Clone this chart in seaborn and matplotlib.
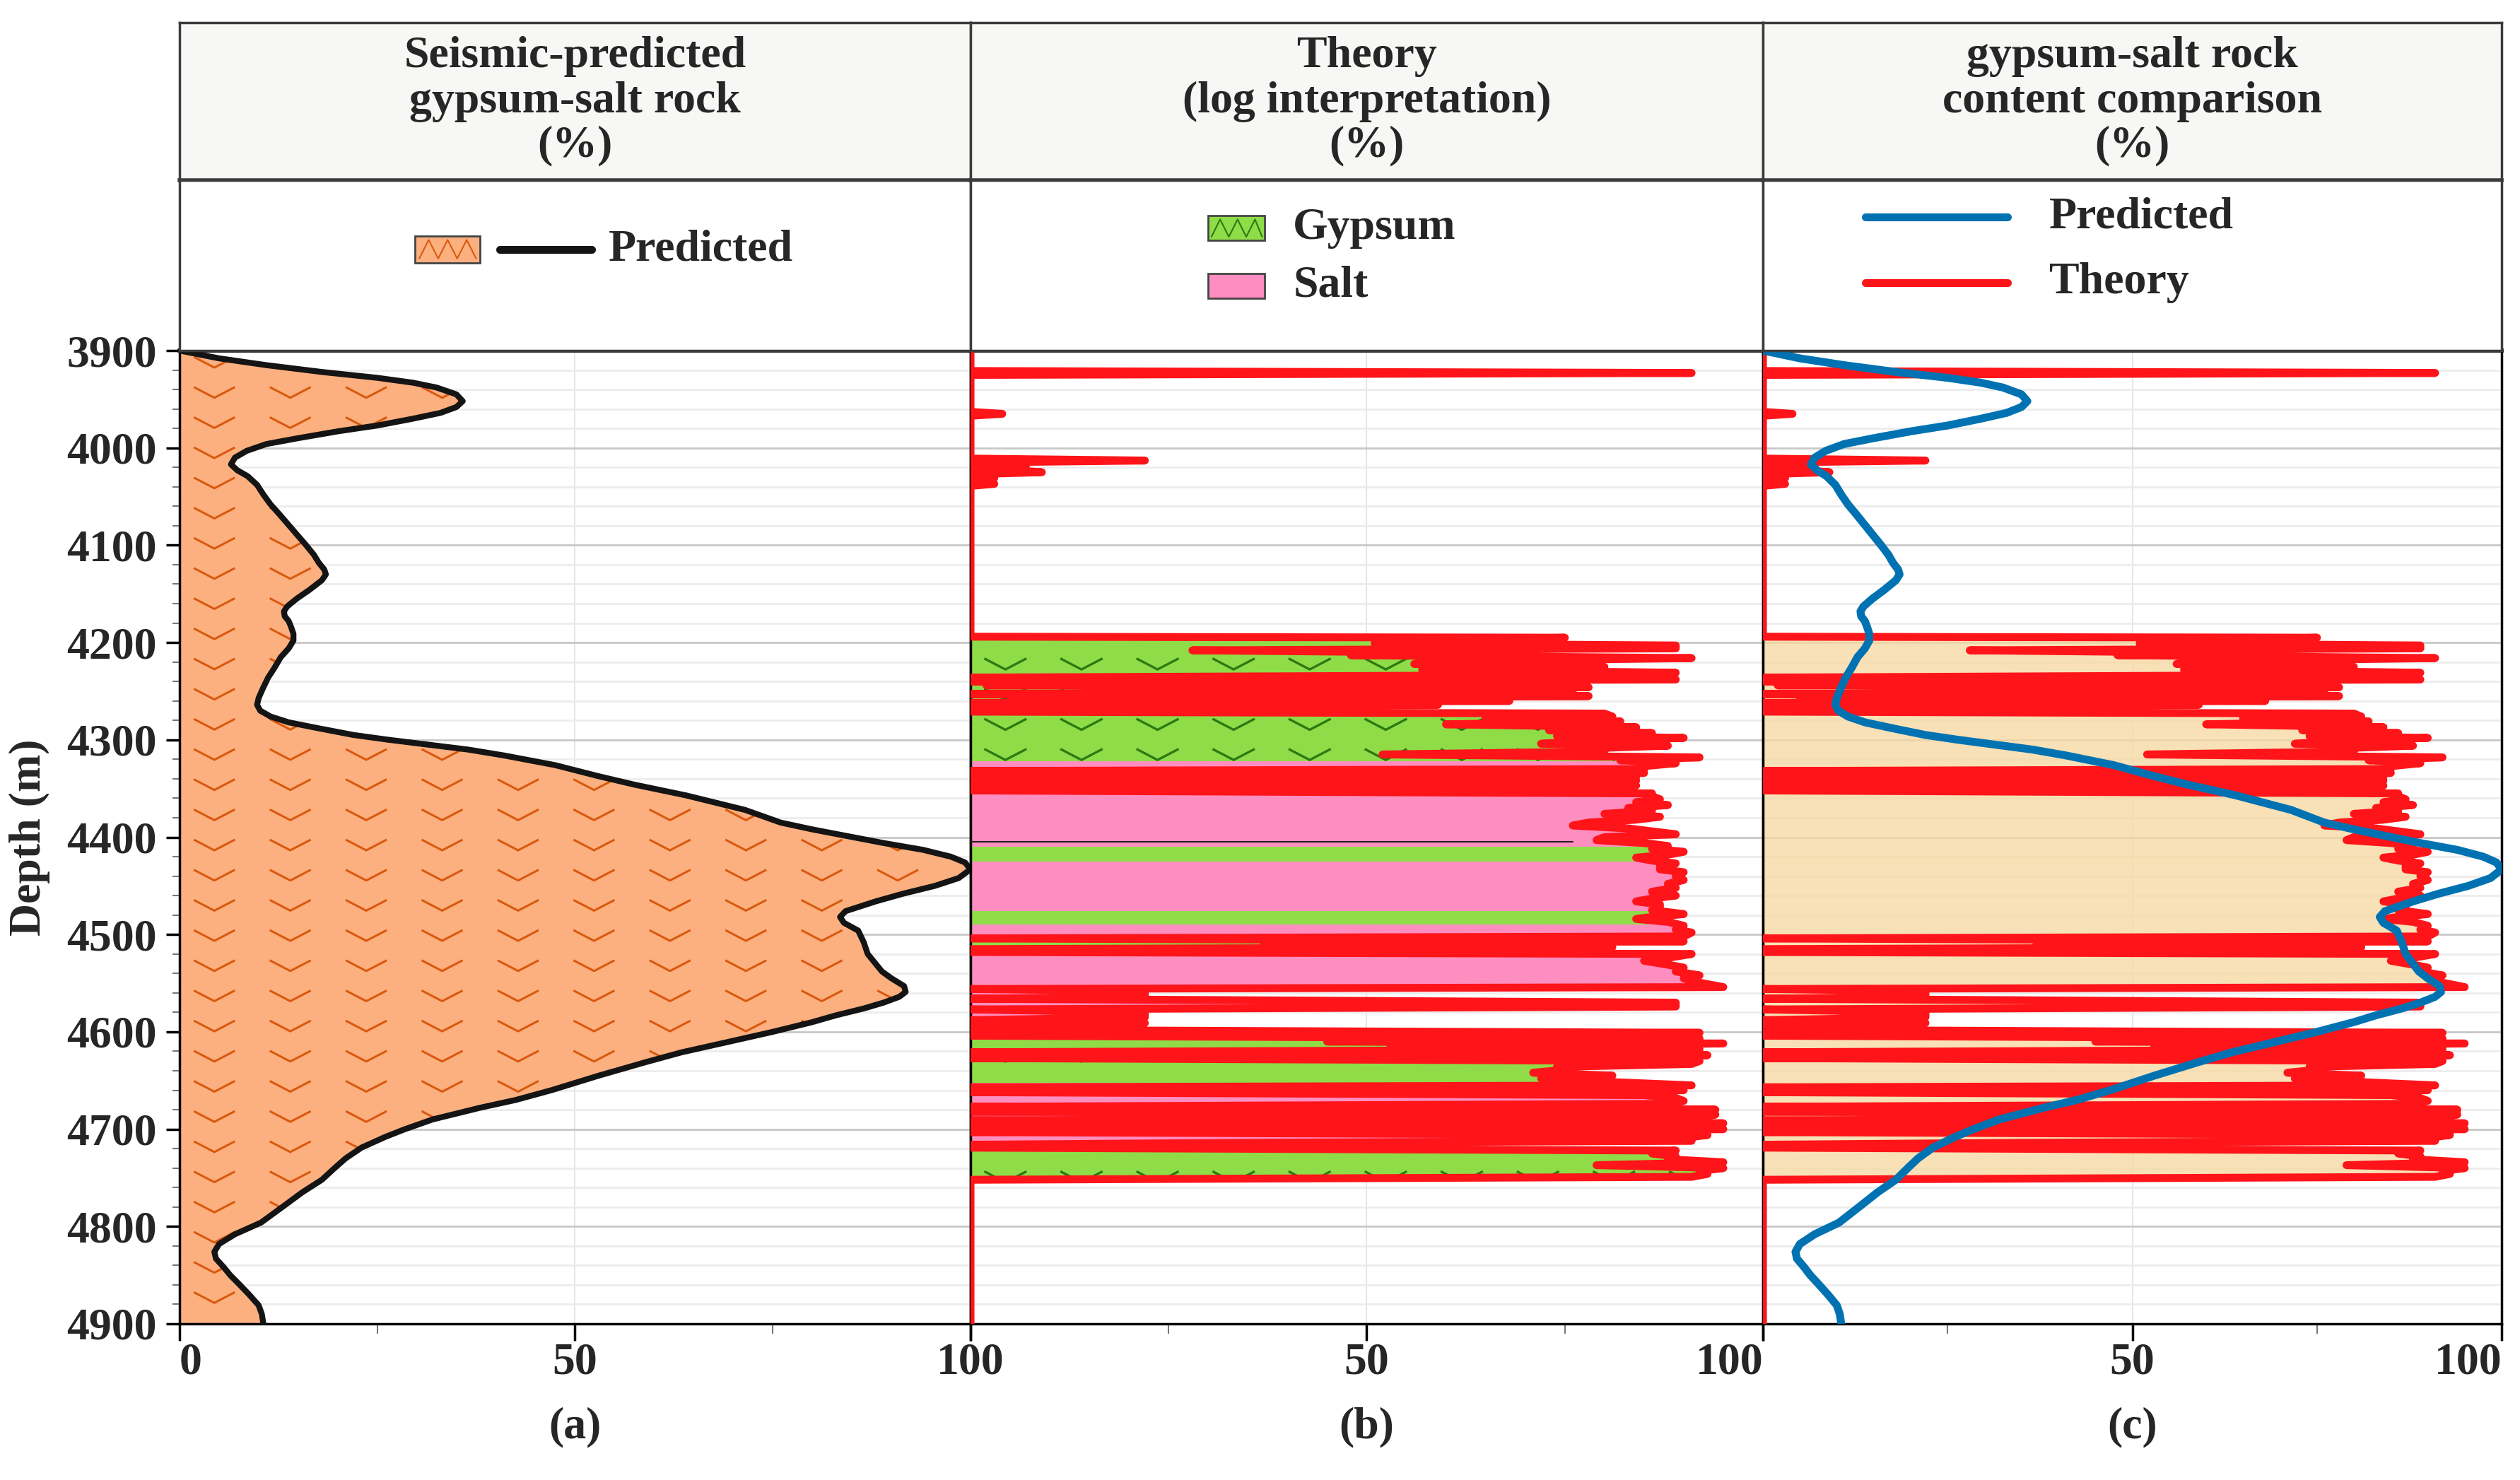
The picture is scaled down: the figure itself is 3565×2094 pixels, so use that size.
import numpy as np
import pandas as pd
import matplotlib
matplotlib.use("Agg")
from matplotlib import pyplot as plt
from matplotlib.path import Path
from matplotlib.patches import Rectangle
from matplotlib.ticker import MultipleLocator, FixedLocator
import seaborn as sns

# seismic-predicted gypsum-salt content (%) vs depth (m)
pred_depth = [3900, 3908, 3915, 3922, 3928, 3933, 3938, 3945, 3952, 3958, 3964, 3970,
              3977, 3983, 3990, 3996, 4003, 4010, 4017, 4023, 4029, 4038, 4048, 4058,
              4068, 4084, 4100, 4110, 4118, 4125, 4130, 4136, 4146, 4155, 4163, 4168,
              4173, 4178, 4184, 4191, 4198, 4206, 4215, 4226, 4236, 4246, 4257, 4264,
              4270, 4276, 4282, 4288, 4295, 4300, 4305, 4310, 4316, 4326, 4337, 4346,
              4357, 4372, 4385, 4392, 4399, 4406, 4413, 4420, 4426, 4433, 4442, 4450,
              4458, 4466, 4476, 4482, 4488, 4496, 4508, 4520, 4530, 4538, 4545, 4553,
              4559, 4564, 4570, 4576, 4583, 4590, 4600, 4611, 4621, 4631, 4645, 4660,
              4670, 4678, 4690, 4700, 4708, 4719, 4730, 4740, 4752, 4765, 4780, 4796,
              4808, 4818, 4826, 4833, 4842, 4850, 4859, 4870, 4881, 4890, 4900]
pred_value = [0, 5, 11, 18, 25, 29.5, 32.5, 35, 35.8, 35, 33, 29.5,
              25, 20, 15, 11, 8.5, 7, 6.5, 7.3, 8.6, 9.8, 10.6, 11.5,
              12.6, 14.3, 16, 17, 17.6, 18.3, 18.5, 18, 16.4, 14.8, 13.6, 13.2,
              13.3, 13.8, 14.1, 14.4, 14.4, 13.8, 12.8, 12, 11.2, 10.6, 10, 9.8,
              10.2, 11.5, 13.8, 17.5, 22, 26.5, 31.5, 36.5, 41, 47.5, 52.8, 57.5,
              64, 71.5, 76, 80, 84.5, 89, 94, 97.5, 99.3, 100, 98.5, 95.5,
              91.5, 88, 84.2, 83.5, 84, 85.8, 86.5, 87, 88, 88.8, 90, 91.6,
              91.8, 91, 89, 86.5, 83, 80, 75, 69, 63.5, 59, 53, 47,
              42.5, 38, 32, 28.5, 26, 23, 21, 19.6, 18, 15.5, 13, 10.3,
              7, 5, 4.4, 4.6, 5.6, 6.4, 7.5, 8.8, 10, 10.4, 10.6]

# log-interpreted (theory) gypsum-salt content (%) vs depth (m)
theory_depth = [3900, 3921, 3923, 3925, 3963, 3965, 3967, 4011, 4013, 4015, 4018, 4020,
                4025, 4027, 4031, 4033, 4037, 4039, 4194,
                4195, 4198, 4201, 4203, 4206, 4208, 4211, 4213, 4216, 4219, 4222, 4225,
                4228, 4231, 4234, 4236, 4238, 4240, 4242, 4244, 4246, 4248, 4250, 4253,
                4255, 4258, 4260, 4262, 4264, 4266, 4271,
                4273, 4276, 4278, 4281, 4284, 4287, 4290, 4293, 4296, 4298, 4301, 4304,
                4306, 4309, 4312, 4315, 4318, 4321, 4324, 4327, 4330, 4332, 4334, 4336,
                4338, 4340, 4342, 4344, 4347, 4349, 4352, 4355, 4358, 4361, 4364, 4367,
                4370, 4373, 4376, 4379, 4382, 4385, 4388, 4391, 4394, 4397, 4400, 4403,
                4406, 4409, 4412, 4415, 4418, 4421, 4424, 4427, 4430, 4433, 4436, 4440,
                4444, 4448, 4452, 4456, 4460, 4463, 4466, 4469, 4472, 4475, 4479, 4482,
                4484, 4487, 4491, 4495, 4498, 4502, 4504, 4507, 4509, 4511, 4513, 4515,
                4518, 4520, 4524, 4527, 4531, 4534, 4538, 4542, 4545, 4548, 4551, 4554,
                4556, 4558, 4564, 4566, 4570, 4574, 4577, 4580, 4585, 4588, 4591, 4594,
                4596, 4598, 4601, 4604, 4607, 4610, 4612, 4615, 4618, 4621, 4624, 4627,
                4630, 4633, 4636, 4639, 4642, 4645, 4648, 4651, 4655, 4657, 4660, 4662,
                4665, 4668, 4671, 4674, 4677, 4680, 4682, 4685, 4688, 4691, 4694, 4697,
                4700, 4703, 4706, 4709, 4712, 4714, 4716, 4719, 4722, 4725, 4728, 4731,
                4734, 4737, 4740, 4743, 4746, 4749, 4752, 4900]
theory_value = [0, 0, 91, 0, 0, 4, 0, 0, 22, 0, 7, 0,
                9, 0, 3, 0, 3, 0, 0,
                75, 60, 51, 89, 89, 28, 70, 48, 91, 60, 56, 80,
                57, 89, 60, 0, 89, 0, 75, 2, 78, 16, 76, 0,
                78, 5, 68, 0, 59, 0, 0,
                80, 81, 65, 82, 60, 84, 73, 86, 74, 90, 78, 72,
                88, 77, 80, 52, 92, 82, 89, 85, 85, 0, 85, 0,
                84, 10, 84, 0, 84, 20, 0, 86, 86, 87, 84, 88,
                83, 86, 80, 87, 84, 78, 76, 83, 86, 89, 80, 79,
                85, 88, 86, 90, 88, 84, 86, 89, 87, 87, 90, 89,
                90, 88, 89, 86, 89, 86, 84, 87, 87, 86, 90, 86,
                84, 88, 90, 89, 91, 90, 0, 90, 38, 37, 81, 0,
                0, 91, 88, 85, 88, 90, 89, 92, 90, 91, 93, 95,
                0, 22, 22, 0, 89, 89, 0, 22, 22, 0, 22, 0,
                10, 0, 92, 0, 92, 45, 95, 53, 92, 0, 93, 0,
                92, 91, 74, 75, 71, 81, 72, 79, 91, 0, 90, 0,
                85, 89, 90, 88, 0, 94, 0, 94, 92, 0, 95, 0,
                95, 0, 93, 90, 91, 35, 0, 0, 89, 86, 89, 88,
                95, 79, 95, 92, 93, 91, 0, 0]

# lithology intervals from the log interpretation (m)
gypsum_top = [4195, 4410, 4476, 4505, 4600, 4722]
gypsum_bottom = [4322, 4425, 4490, 4522, 4652, 4752]
salt_top = [4322, 4425, 4490, 4522, 4652]
salt_bottom = [4410, 4476, 4505, 4600, 4722]

# thin black boundary line seen in panel b
boundary_depth = 4405
boundary_reach = 76

titles = ["Seismic-predicted\ngypsum-salt rock\n(%)",
          "Theory\n(log interpretation)\n(%)",
          "gypsum-salt rock\ncontent comparison\n(%)"]
tags = ["(a)", "(b)", "(c)"]
x_labels = [["0", "50", "100"], ["", "50", "100"], ["", "50", "100"]]
x_align = [["left", "center", "center"], ["center", "center", "right"],
           ["center", "center", "right"]]

pred = pd.DataFrame({"depth": pred_depth, "value": pred_value})
theory = pd.DataFrame({"depth": theory_depth, "value": theory_value})

ORANGE = "#fdb07f"
ORANGE_HATCH = "#d9590f"
GREEN = "#8fdc48"
GREEN_HATCH = "#2c7a12"
PINK = "#ff8ec0"
BEIGE = "#f6d89e"
RED = "#fe1419"
BLUE = "#0072b2"
FS = 46

sns.set_theme(style="white")
plt.rcParams["font.family"] = ["Liberation Serif", "DejaVu Serif"]
plt.rcParams["font.weight"] = "bold"
plt.rcParams["axes.labelweight"] = "bold"

fig = plt.figure(figsize=(35.65, 20.94), dpi=100)
lefts = [0.07125, 0.38513, 0.69958]
rights = [0.38513, 0.69958, 0.99271]
bot, top, mid, head = 0.10554, 0.76313, 0.87822, 0.98472

axes = [fig.add_axes([lefts[i], bot, rights[i] - lefts[i], top - bot]) for i in range(3)]

chevron = Path([(-1, 0.26), (0, -0.26), (1, 0.26)], [Path.MOVETO, Path.LINETO, Path.LINETO])


def chevrons(ax, clip, rows, color, size, lw):
    cols = np.arange(4.4, 100, 9.6)
    xx, yy = np.meshgrid(cols, rows)
    sc = ax.scatter(xx.ravel(), yy.ravel(), marker=chevron, s=size, facecolors="none",
                    edgecolors=color, linewidths=lw, zorder=3)
    sc.set_clip_path(clip, ax.transData)


def bands(tops, bottoms):
    rects = [Path([(-5, t), (105, t), (105, b), (-5, b), (-5, t)], closed=True)
             for t, b in zip(tops, bottoms)]
    return Path.make_compound_path(*rects)


for i, ax in enumerate(axes):
    ax.set_xlim(0, 100)
    ax.set_ylim(4900, 3900)
    ax.yaxis.set_major_locator(MultipleLocator(100))
    ax.yaxis.set_minor_locator(MultipleLocator(20))
    ax.xaxis.set_major_locator(FixedLocator([0, 50, 100]))
    ax.xaxis.set_minor_locator(FixedLocator([25, 75]))
    ax.set_xticklabels(x_labels[i])
    for lab, ha in zip(ax.get_xticklabels(), x_align[i]):
        lab.set_horizontalalignment(ha)
    ax.grid(which="major", axis="y", color="#c8c8c8", lw=2)
    ax.grid(which="minor", axis="y", color="#ececec", lw=2)
    ax.grid(which="major", axis="x", color="#e6e6e6", lw=1.5)
    ax.set_axisbelow(True)
    ax.tick_params(axis="x", which="major", length=17, width=2.5, direction="out",
                   labelsize=FS, pad=2, bottom=True, color="black")
    ax.tick_params(axis="x", which="minor", length=10, width=1.5, direction="out",
                   bottom=True, color="#777777")
    if i == 0:
        ax.tick_params(axis="y", which="major", length=14, width=2.5, direction="out",
                       labelsize=FS, pad=9, left=True, color="black")
        ax.tick_params(axis="y", which="minor", length=7, width=1.5, direction="out",
                       left=True, color="#777777")
    else:
        ax.tick_params(axis="y", which="both", left=False, labelleft=False)
    for s in ax.spines.values():
        s.set_color("black")
        s.set_linewidth(2.5)
    ax.spines["top"].set_linewidth(4)
    fig.text((lefts[i] + rights[i]) / 2, 0.0358, tags[i], ha="center", va="center", fontsize=FS)

# (a) seismic prediction
ax = axes[0]
poly = ax.fill_betweenx(pred["depth"], 0, pred["value"], color=ORANGE, lw=0, zorder=2)
chevrons(ax, poly.get_paths()[0], np.arange(3912, 4900, 31), ORANGE_HATCH, 1750, 2.2)
sns.lineplot(data=pred, x="value", y="depth", orient="y", estimator=None, sort=False,
             color="#141414", lw=6, ax=ax, zorder=4, solid_joinstyle="round")
ax.set_xlabel("")
ax.set_ylabel("Depth (m)", fontsize=FS)
ax.yaxis.set_label_coords(-0.1635, 0.5)

# (b) log interpretation
ax = axes[1]
gfill = ax.fill_betweenx(theory["depth"], 0, theory["value"], color=GREEN, lw=0, zorder=2)
gfill.set_clip_path(bands(gypsum_top, gypsum_bottom), ax.transData)
sfill = ax.fill_betweenx(theory["depth"], 0, theory["value"], color=PINK, lw=0, zorder=2)
sfill.set_clip_path(bands(salt_top, salt_bottom), ax.transData)
rows = [r for r in np.arange(3912, 4900, 31)
        if any(t <= r <= b for t, b in zip(gypsum_top, gypsum_bottom))]
chevrons(ax, Path.make_compound_path(*gfill.get_paths()), rows, GREEN_HATCH, 1850, 2.4)
ax.plot([0, boundary_reach], [boundary_depth, boundary_depth], color="#222222", lw=1.5, zorder=3)
sns.lineplot(data=theory, x="value", y="depth", orient="y", estimator=None, sort=False,
             color=RED, lw=8, ax=ax, zorder=4, solid_capstyle="round", solid_joinstyle="round")
ax.set_xlabel("")
ax.set_ylabel("")

# (c) comparison
ax = axes[2]
ax.fill_betweenx(theory["depth"], 0, theory["value"], color=BEIGE, alpha=0.75, lw=0, zorder=2)
sns.lineplot(data=theory, x="value", y="depth", orient="y", estimator=None, sort=False,
             color=RED, lw=8, ax=ax, zorder=4, solid_capstyle="round", solid_joinstyle="round")
sns.lineplot(data=pred, x="value", y="depth", orient="y", estimator=None, sort=False,
             color=BLUE, lw=8, ax=ax, zorder=5, solid_joinstyle="round")
ax.set_xlabel("")
ax.set_ylabel("")

# header cells: titles and legends
for i in range(3):
    w = rights[i] - lefts[i]
    hax = fig.add_axes([lefts[i], mid, w, head - mid], facecolor="#f7f7f5")
    lax = fig.add_axes([lefts[i], top, w, mid - top], facecolor="white")
    for a in (hax, lax):
        a.set_xlim(0, 1)
        a.set_ylim(0, 1)
        a.set_xticks([])
        a.set_yticks([])
        for s in a.spines.values():
            s.set_color("#3c3c3c")
            s.set_linewidth(2.5)
    hax.spines["bottom"].set_linewidth(4)
    hax.text(0.5, 0.5, titles[i], ha="center", va="center", fontsize=FS, linespacing=1.12)

    if i == 0:
        lax.add_patch(Rectangle((0.298, 0.513), 0.082, 0.16, facecolor=ORANGE,
                                edgecolor="#444444", lw=2))
        lax.plot([0.303, 0.315, 0.327, 0.339, 0.351, 0.363, 0.375],
                 [0.54, 0.65, 0.54, 0.65, 0.54, 0.65, 0.54], color=ORANGE_HATCH, lw=1.5)
        lax.plot([0.405, 0.521], [0.593, 0.593], color="#141414", lw=8, solid_capstyle="round")
        lax.text(0.542, 0.593, "Predicted", ha="left", va="center", fontsize=FS)
    elif i == 1:
        for yc, col, lab in [(0.718, GREEN, "Gypsum"), (0.378, PINK, "Salt")]:
            lax.add_patch(Rectangle((0.30, yc - 0.0725), 0.071, 0.145, facecolor=col,
                                    edgecolor="#444444", lw=2))
            lax.text(0.407, yc, lab, ha="left", va="center", fontsize=FS)
        lax.plot([0.304, 0.315, 0.326, 0.337, 0.348, 0.359, 0.368],
                 [0.668, 0.77, 0.668, 0.77, 0.668, 0.77, 0.668], color=GREEN_HATCH, lw=1.5)
    else:
        for yc, col, lab in [(0.784, BLUE, "Predicted"), (0.398, RED, "Theory")]:
            lax.plot([0.139, 0.331], [yc, yc], color=col, lw=8, solid_capstyle="round")
            lax.text(0.387, yc, lab, ha="left", va="center", fontsize=FS)

fig.savefig("out.png", dpi=100, facecolor="white")
